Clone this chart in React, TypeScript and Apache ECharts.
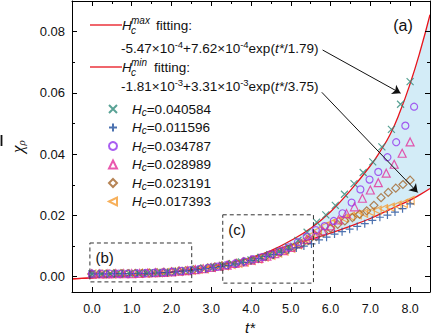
import React, { useEffect, useRef } from 'react';
import * as echarts from 'echarts';

const FONT = '"Liberation Sans", Arial, sans-serif';
const SERIF = '"Liberation Serif", "DejaVu Serif", serif';

// fitting curves
const fitT = [-0.5, 0, 0.5, 1, 1.5, 2, 2.5, 3, 3.5, 4, 4.5, 5, 5.5, 6, 6.5, 7, 7.25, 7.5, 7.75, 8, 8.25, 8.5];
const fitMax = [-0.0007, -0.0004, 0.0, 0.0004, 0.0009, 0.0015, 0.0023, 0.0033, 0.0046, 0.0062, 0.0085, 0.0118, 0.0158, 0.0212, 0.0282, 0.0362, 0.041, 0.0465, 0.054, 0.063, 0.0735, 0.0855];
const fitMin = [-0.0007, -0.0004, 0.0, 0.0004, 0.0009, 0.0015, 0.0023, 0.0033, 0.0046, 0.0062, 0.0082, 0.0104, 0.0122, 0.0142, 0.0165, 0.019, 0.0205, 0.022, 0.0235, 0.025, 0.0268, 0.0288];

// Hc = 0.040584 (x)
const tCross = [0, 0.24, 0.47, 0.71, 0.94, 1.18, 1.41, 1.65, 1.88, 2.12, 2.35, 2.59, 2.82, 3.06, 3.29, 3.53, 3.76, 4.0, 4.24, 4.47, 4.71, 4.94, 5.18, 5.41, 5.65, 5.88, 6.12, 6.35, 6.59, 6.82, 7.06, 7.29, 7.53, 7.76, 8.0];
const yCross = [0.0009, 0.0009, 0.0009, 0.001, 0.001, 0.0011, 0.0012, 0.0013, 0.0015, 0.0018, 0.002, 0.0024, 0.0028, 0.0032, 0.0036, 0.0042, 0.0048, 0.0055, 0.0063, 0.0072, 0.0083, 0.0097, 0.0118, 0.0145, 0.0178, 0.0202, 0.0233, 0.0269, 0.0304, 0.034, 0.0375, 0.0424, 0.0481, 0.0563, 0.0637];

// Hc = 0.011596 (+)
const tPlus = [0, 0.19, 0.38, 0.57, 0.76, 0.95, 1.14, 1.33, 1.52, 1.71, 1.9, 2.1, 2.29, 2.48, 2.67, 2.86, 3.05, 3.24, 3.43, 3.62, 3.81, 4.0, 4.19, 4.38, 4.57, 4.76, 4.95, 5.14, 5.33, 5.52, 5.71, 5.9, 6.1, 6.29, 6.48, 6.67, 6.86, 7.05, 7.24, 7.43, 7.62, 7.81, 8.0];
const yPlus = [0.0009, 0.0009, 0.0009, 0.001, 0.001, 0.001, 0.0011, 0.0011, 0.0012, 0.0013, 0.0014, 0.0016, 0.0018, 0.002, 0.0023, 0.0026, 0.003, 0.0033, 0.0037, 0.0042, 0.0047, 0.0053, 0.0059, 0.0066, 0.0072, 0.008, 0.0088, 0.0094, 0.01, 0.0107, 0.012, 0.0129, 0.0139, 0.0147, 0.0155, 0.0164, 0.0173, 0.0184, 0.0194, 0.0201, 0.0211, 0.0222, 0.0238];

// Hc = 0.034787 (circle)
const tCirc = [0, 0.23, 0.45, 0.68, 0.9, 1.13, 1.35, 1.58, 1.8, 2.03, 2.25, 2.48, 2.7, 2.93, 3.15, 3.38, 3.6, 3.83, 4.05, 4.28, 4.5, 4.73, 4.95, 5.18, 5.4, 5.63, 5.85, 6.08, 6.3, 6.53, 6.75, 6.98, 7.2, 7.43, 7.65, 7.88, 8.1];
const yCirc = [0.001, 0.001, 0.001, 0.001, 0.001, 0.0011, 0.0012, 0.0013, 0.0014, 0.0016, 0.0019, 0.0021, 0.0025, 0.0029, 0.0033, 0.0038, 0.0043, 0.005, 0.0057, 0.0064, 0.0073, 0.0083, 0.0096, 0.0113, 0.0131, 0.0152, 0.0165, 0.0182, 0.0207, 0.0242, 0.0285, 0.0317, 0.0342, 0.039, 0.0439, 0.0493, 0.0555];

// Hc = 0.028989 (triangle up)
const tTri = [0, 0.2, 0.4, 0.6, 0.8, 1.0, 1.2, 1.4, 1.6, 1.8, 2.0, 2.2, 2.4, 2.6, 2.8, 3.0, 3.2, 3.4, 3.6, 3.8, 4.0, 4.2, 4.4, 4.6, 4.8, 5.0, 5.2, 5.4, 5.6, 5.8, 6.0, 6.2, 6.4, 6.6, 6.8, 7.0, 7.2, 7.4, 7.6, 7.8, 8.0];
const yTri = [0.0009, 0.0009, 0.0009, 0.001, 0.001, 0.001, 0.0011, 0.0012, 0.0013, 0.0014, 0.0016, 0.0018, 0.002, 0.0023, 0.0026, 0.003, 0.0034, 0.0038, 0.0043, 0.0048, 0.0054, 0.006, 0.0067, 0.0075, 0.0085, 0.0096, 0.0108, 0.0122, 0.0137, 0.015, 0.0166, 0.0185, 0.0206, 0.0228, 0.0256, 0.0283, 0.0307, 0.0338, 0.0367, 0.0403, 0.044];

// Hc = 0.023191 (diamond)
const tDia = [0, 0.18, 0.36, 0.55, 0.73, 0.91, 1.09, 1.27, 1.45, 1.64, 1.82, 2.0, 2.18, 2.36, 2.55, 2.73, 2.91, 3.09, 3.27, 3.45, 3.64, 3.82, 4.0, 4.18, 4.36, 4.55, 4.73, 4.91, 5.09, 5.27, 5.45, 5.64, 5.82, 6.0, 6.18, 6.36, 6.55, 6.73, 6.91, 7.09, 7.27, 7.45, 7.64, 7.82, 8.0];
const yDia = [0.0009, 0.0009, 0.0009, 0.001, 0.001, 0.001, 0.0011, 0.0011, 0.0012, 0.0013, 0.0014, 0.0016, 0.0018, 0.002, 0.0023, 0.0025, 0.0029, 0.0032, 0.0036, 0.004, 0.0044, 0.0049, 0.0054, 0.0059, 0.0065, 0.0072, 0.008, 0.0088, 0.0097, 0.0107, 0.0119, 0.0131, 0.0144, 0.0158, 0.0171, 0.0182, 0.0193, 0.0204, 0.0215, 0.0233, 0.0258, 0.0275, 0.0289, 0.0301, 0.0315];

// Hc = 0.017393 (triangle left)
const tLeft = [0, 0.17, 0.33, 0.5, 0.67, 0.83, 1.0, 1.17, 1.33, 1.5, 1.67, 1.83, 2.0, 2.17, 2.33, 2.5, 2.67, 2.83, 3.0, 3.17, 3.33, 3.5, 3.67, 3.83, 4.0, 4.17, 4.33, 4.5, 4.67, 4.83, 5.0, 5.17, 5.33, 5.5, 5.67, 5.83, 6.0, 6.17, 6.33, 6.5, 6.67, 6.83, 7.0, 7.17, 7.33, 7.5, 7.67, 7.83, 8.0];
const yLeft = [0.0009, 0.0009, 0.0009, 0.0009, 0.001, 0.001, 0.001, 0.0011, 0.0011, 0.0012, 0.0013, 0.0014, 0.0016, 0.0017, 0.0019, 0.0021, 0.0024, 0.0026, 0.003, 0.0033, 0.0036, 0.004, 0.0044, 0.0048, 0.0053, 0.0058, 0.0064, 0.007, 0.0077, 0.0084, 0.0093, 0.0104, 0.0118, 0.0134, 0.015, 0.0164, 0.0174, 0.0183, 0.0191, 0.0197, 0.0202, 0.0207, 0.0212, 0.0217, 0.0222, 0.0227, 0.0233, 0.0239, 0.0249];

const xMajor = [0, 1, 2, 3, 4, 5, 6, 7, 8];
const xMinor = [0.5, 1.5, 2.5, 3.5, 4.5, 5.5, 6.5, 7.5];
const yMajor = [0, 0.02, 0.04, 0.06, 0.08];
const yMinor = [0.01, 0.03, 0.05, 0.07];

const seriesDefs = [
  { name: 'Hc=0.040584', t: tCross, y: yCross, color: '#2f8b7b', symbol: 'path://M0,0L10,10M0,10L10,0', size: 7 },
  { name: 'Hc=0.011596', t: tPlus, y: yPlus, color: '#1f4f9c', symbol: 'path://M5,0L5,10M0,5L10,5', size: 8 },
  { name: 'Hc=0.034787', t: tCirc, y: yCirc, color: '#9436ee', symbol: 'circle', size: 7 },
  { name: 'Hc=0.028989', t: tTri, y: yTri, color: '#e4309a', symbol: 'triangle', size: 8 },
  { name: 'Hc=0.023191', t: tDia, y: yDia, color: '#a4652a', symbol: 'diamond', size: 8 },
  { name: 'Hc=0.017393', t: tLeft, y: yLeft, color: '#f59c32', symbol: 'path://M0,5L10,0L10,10Z', size: 8 },
];
const drawOrder = [5, 4, 3, 1, 0, 2];

const RED = '#e8141c';
const TXT = '#111';
const BAND = '#d3ecf7';

function App() {
  const ref = useRef<HTMLDivElement>(null);
  useEffect(() => {
    if (!ref.current) return;
    const chart = echarts.init(ref.current, undefined, { renderer: 'svg' });

    const baseX = { type: 'value', min: -0.5, max: 8.5, splitLine: { show: false }, z: 6 };
    const baseY = { type: 'value', min: -0.005, max: 0.09, splitLine: { show: false }, z: 6 };
    const lineBlack = { show: true, onZero: false, lineStyle: { color: '#000', width: 1 } };
    const noLine = { show: false, onZero: false };
    const tick = (len: number, vals: number[]) => ({ show: true, inside: true, length: len, customValues: vals, lineStyle: { color: '#000', width: 1 } });

    const xAxis = [
      {
        ...baseX, position: 'bottom', axisLine: lineBlack, axisTick: tick(5, xMajor),
        axisLabel: { customValues: xMajor, formatter: (v: number) => v.toFixed(1), fontSize: 12.5, fontFamily: FONT, color: TXT, margin: 10 },
      },
      { ...baseX, position: 'bottom', axisLine: noLine, axisTick: tick(3, xMinor), axisLabel: { show: false } },
      { ...baseX, position: 'top', axisLine: lineBlack, axisTick: tick(5, xMajor), axisLabel: { show: false } },
      { ...baseX, position: 'top', axisLine: noLine, axisTick: tick(3, xMinor), axisLabel: { show: false } },
    ];
    const yAxis = [
      {
        ...baseY, position: 'left', axisLine: lineBlack, axisTick: tick(5, yMajor),
        axisLabel: { customValues: yMajor, formatter: (v: number) => v.toFixed(2), fontSize: 13, fontFamily: FONT, color: TXT, margin: 7 },
        name: '{a|χ}{b|ρ}', nameLocation: 'middle', nameRotate: 90, nameGap: 46,
        nameTextStyle: {
          rich: {
            a: { fontFamily: SERIF, fontStyle: 'italic', fontSize: 17, color: TXT, lineHeight: 18 },
            b: { fontFamily: SERIF, fontStyle: 'italic', fontSize: 11, color: TXT, verticalAlign: 'bottom', lineHeight: 12 },
          },
        },
      },
      { ...baseY, position: 'left', axisLine: noLine, axisTick: tick(3, yMinor), axisLabel: { show: false } },
      { ...baseY, position: 'right', axisLine: lineBlack, axisTick: tick(5, yMajor), axisLabel: { show: false } },
      { ...baseY, position: 'right', axisLine: noLine, axisTick: tick(3, yMinor), axisLabel: { show: false } },
    ];

    const scatterSeries = drawOrder.map((i) => {
      const d = seriesDefs[i];
      return {
        type: 'scatter', name: d.name, symbol: d.symbol, symbolSize: d.size,
        data: d.t.map((t, k) => [t, d.y[k]]),
        itemStyle: { color: 'rgba(255,255,255,0)', borderColor: d.color, borderWidth: 1.2 },
        emphasis: { disabled: true }, z: 4,
      };
    });

    const series: any[] = [
      {
        type: 'line', name: 'bandUpper', smooth: true, symbol: 'none', silent: true, z: 1,
        data: fitT.map((t, i) => [t, fitMax[i]]), lineStyle: { width: 0, opacity: 0 },
        areaStyle: { color: BAND, opacity: 1, origin: 'start' },
      },
      {
        type: 'line', name: 'bandLower', smooth: true, symbol: 'none', silent: true, z: 1,
        data: fitT.map((t, i) => [t, fitMin[i]]), lineStyle: { width: 0, opacity: 0 },
        areaStyle: { color: '#ffffff', opacity: 1, origin: 'start' },
      },
      {
        type: 'line', name: 'maxFit', smooth: true, symbol: 'none',
        data: fitT.map((t, i) => [t, fitMax[i]]), lineStyle: { color: RED, width: 1.3 }, silent: true, z: 3,
        markLine: {
          silent: true, symbol: ['none', 'arrow'], symbolSize: 8, z: 5,
          label: { show: false },
          lineStyle: { color: '#111', width: 1, type: 'solid' },
          data: [
            [{ coord: [5.8, 0.074] }, { coord: [7.76, 0.0599] }],
            [{ coord: [5.78, 0.0602] }, { coord: [8.19, 0.0275] }],
          ],
        },
      },
      {
        type: 'line', name: 'minFit', smooth: true, symbol: 'none',
        data: fitT.map((t, i) => [t, fitMin[i]]), lineStyle: { color: RED, width: 1.3 }, silent: true, z: 3,
        markArea: {
          silent: true, z: 5,
          itemStyle: { color: 'rgba(0,0,0,0)', borderColor: '#333', borderWidth: 1, borderType: [4, 3] },
          label: { show: true, position: 'insideTopLeft', fontSize: 15, fontFamily: FONT, color: TXT, distance: 0, offset: [6, 8] },
          data: [
            [{ name: '(b)', xAxis: -0.05, yAxis: 0.011 }, { xAxis: 2.51, yAxis: -0.0017 }],
            [{ name: '(c)', xAxis: 3.29, yAxis: 0.0202 }, { xAxis: 5.57, yAxis: -0.0021 }],
          ],
        },
      },
      ...scatterSeries,
    ];

    const t = (x: number, y: number, text: string, font: string, extra: any = {}) => ({
      type: 'text', x, y, silent: true, z: 10,
      style: {
        text, font, fill: TXT, align: 'left', verticalAlign: 'middle',
        textAlign: 'left', textVerticalAlign: 'middle', ...extra,
      },
    });
    const richFormula = {
      sup: { fontSize: 9.5, fontFamily: FONT, verticalAlign: 'top', lineHeight: 9 },
      it: { fontSize: 13.5, fontFamily: FONT, fontStyle: 'italic', lineHeight: 17 },
    };

    const graphic: any[] = [
      { type: 'line', silent: true, z: 10, shape: { x1: 90, y1: 25, x2: 122, y2: 25 }, style: { stroke: RED, lineWidth: 1.3 } },
      t(122, 25, 'H', `italic 13.5px ${FONT}`),
      t(131, 20, 'max', `italic 10px ${FONT}`),
      t(131, 30, 'c', `italic 10px ${FONT}`),
      t(156, 25, 'fitting:', `13.5px ${FONT}`),
      t(121, 48, '-5.47×10{sup|-4}+7.62×10{sup|-4}exp({it|t*}/1.79)', `13.5px ${FONT}`, { rich: richFormula, lineHeight: 17 }),
      { type: 'line', silent: true, z: 10, shape: { x1: 90, y1: 67, x2: 122, y2: 67 }, style: { stroke: RED, lineWidth: 1.3 } },
      t(122, 67, 'H', `italic 13.5px ${FONT}`),
      t(131, 62, 'min', `italic 10px ${FONT}`),
      t(131, 72, 'c', `italic 10px ${FONT}`),
      t(154, 67, 'fitting:', `13.5px ${FONT}`),
      t(121, 86, '-1.81×10{sup|-3}+3.31×10{sup|-3}exp({it|t*}/3.75)', `13.5px ${FONT}`, { rich: richFormula, lineHeight: 17 }),
      t(403, 25, '(a)', `16px ${FONT}`, { align: 'center', textAlign: 'center' }),
      t(250, 327, 't*', `italic 15px ${FONT}`, { align: 'center', textAlign: 'center' }),
      { type: 'line', silent: true, z: 10, shape: { x1: 1.5, y1: 135, x2: 1.5, y2: 146 }, style: { stroke: '#111', lineWidth: 1.8 } },
    ];

    chart.setOption({
      animation: false,
      backgroundColor: '#fff',
      grid: { left: 72, right: 6, top: 1, bottom: 44, containLabel: false },
      xAxis,
      yAxis,
      legend: {
        orient: 'vertical', left: 103, top: 97, itemWidth: 8, itemHeight: 8, itemGap: 3.5,
        selectedMode: false,
        data: seriesDefs.map((d) => d.name),
        formatter: (n: string) => `{i|H}{s|c}{n|${n.slice(2)}}`,
        textStyle: {
          color: TXT, fontFamily: FONT, fontSize: 13.5,
          rich: {
            i: { fontStyle: 'italic', fontSize: 13.5, fontFamily: FONT, color: TXT, lineHeight: 16, padding: [0, 0, 0, 10] },
            s: { fontStyle: 'italic', fontSize: 10, fontFamily: FONT, color: TXT, verticalAlign: 'bottom', lineHeight: 10 },
            n: { fontSize: 13.5, fontFamily: FONT, color: TXT, lineHeight: 16 },
          },
        },
      },
      series,
      graphic,
    });
    return () => chart.dispose();
  }, []);
  return <div ref={ref} style={{ position: 'fixed', left: 0, top: 0, width: 436, height: 336, background: '#fff' }} />;
}

export default App;
